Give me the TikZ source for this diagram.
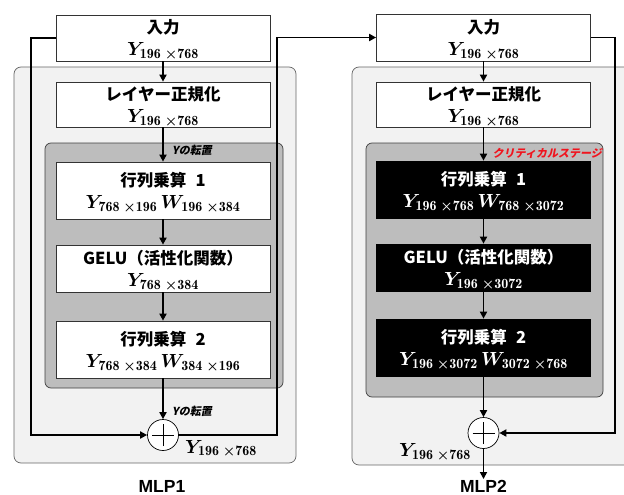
\RequirePackage{fix-cm}
\documentclass[tikz,border=0pt]{standalone}
\usepackage{amsmath,bm}
\usepackage{fontspec}
\newfontfamily\jp{Noto Sans CJK JP}
\newfontfamily\jpit{Noto Sans CJK JP}[FakeSlant=0.2]
\setsansfont{Liberation Sans}
\usetikzlibrary{arrows.meta}
\DeclareMathSizes{19}{19}{14}{10}
\newcommand\mY[2]{\bm{Y}_{\mathbf{#1}\;\bm{\times}\mathbf{#2}}}
\newcommand\mW[2]{\bm{W}_{\mathbf{#1}\;\bm{\times}\mathbf{#2}}}
\newcommand\ml[1]{{\fontsize{19}{20}\selectfont$#1$}}
% two-line box content: fixed first-line height, smashed second line
\newcommand\tl[2]{\raisebox{0pt}[14pt][0pt]{#1}\\\smash{\ml{#2}}}
\newcommand\gap{\hspace{0.55em}}
\definecolor{panelA}{HTML}{F2F2F2}
\definecolor{panelB}{HTML}{BDBDBD}
\definecolor{crit}{HTML}{F0141E}
\begin{document}
\begin{tikzpicture}[x=1pt,y=-1pt,
  box/.style={draw=black!80, line width=0.7pt, fill=white, minimum width=214pt, inner sep=0pt, align=center, font=\fontsize{16.5}{22}\selectfont\jp\bfseries},
  bbox/.style={box, fill=black, draw=black, text=white},
  outerpanel/.style={rounded corners=7pt, fill=panelA, draw=black!60, line width=0.7pt},
  innerpanel/.style={rounded corners=6pt, fill=panelB, draw=black!75, line width=0.7pt},
  arr/.style={line width=1.7pt, -{Triangle[length=7pt,width=7pt]}},
  plus/.style={circle, draw=black, line width=0.7pt, fill=white, minimum size=31pt, inner sep=0pt},
  note/.style={font=\fontsize{11}{12}\selectfont\jpit\bfseries, inner sep=0pt},
  ttl/.style={font=\fontsize{17.5}{20}\selectfont\sffamily\bfseries, inner sep=0pt}]
\useasboundingbox (0,0) rectangle (624,495);
% panels
\draw[outerpanel] (14,67) rectangle (296,463);
\draw[outerpanel] (352,67) rectangle (640,465);
\draw[innerpanel] (45,143) rectangle (283,388);
\draw[innerpanel] (366,143) rectangle (603,397);
% MLP1 boxes
\node[box, minimum height=46pt] (in1) at (163,38) {\tl{入力}{\mY{196}{768}}};
\node[box, minimum height=45pt] (ln1) at (163,104.5) {\tl{レイヤー正規化}{\mY{196}{768}}};
\node[box, minimum height=57pt] (m11) at (163,190.5) {\tl{行列乗算\gap 1}{\mY{768}{196}\,\mW{196}{384}}};
\node[box, minimum height=47pt] (g1) at (163,268.5) {\tl{GELU（活性化関数）}{\mY{768}{384}}};
\node[box, minimum height=57pt] (m12) at (163,349.5) {\tl{行列乗算\gap 2}{\mY{768}{384}\,\mW{384}{196}}};
\node[plus] (p1) at (163,435) {};
% MLP2 boxes
\node[box, minimum height=47pt] (in2) at (483.5,37.5) {\tl{入力}{\mY{196}{768}}};
\node[box, minimum height=45pt] (ln2) at (483.5,104.5) {\tl{レイヤー正規化}{\mY{196}{768}}};
\node[bbox, minimum height=57pt] (m21) at (483.5,189.5) {\tl{行列乗算\gap 1}{\mY{196}{768}\,\mW{768}{3072}}};
\node[bbox, minimum height=47pt] (g2) at (483.5,267.5) {\tl{GELU（活性化関数）}{\mY{196}{3072}}};
\node[bbox, minimum height=57pt] (m22) at (483.5,347.5) {\tl{行列乗算\gap 2}{\mY{196}{3072}\,\mW{3072}{768}}};
\node[plus] (p2) at (483.5,433) {};
% plus signs
\foreach \p in {p1,p2}{
  \draw[line width=1pt] ([xshift=-11pt]\p.center) -- ([xshift=11pt]\p.center);
  \draw[line width=1pt] ([yshift=-11pt]\p.center) -- ([yshift=11pt]\p.center);
}
% coordinates
\coordinate (l1) at (31,435);
\coordinate (r1) at (277,37.5);
\coordinate (r2) at (615,433);
\coordinate (o2) at (483.5,479);
% MLP1 connectors
\draw[arr] (in1) -- (ln1);
\draw[arr] (ln1) -- (m11);
\draw[arr] (m11) -- (g1);
\draw[arr] (g1) -- (m12);
\draw[arr] (m12) -- (p1);
\draw[arr] (in1.west) -| (l1) -- (p1.west);
\draw[arr] (p1.east) -| (r1) -- (in2.west);
% MLP2 connectors
\draw[arr] (in2) -- (ln2);
\draw[arr] (ln2) -- (m21);
\draw[arr] (m21) -- (g2);
\draw[arr] (g2) -- (m22);
\draw[arr] (m22) -- (p2);
\draw[arr] (in2.east) -| (r2) -- (p2.east);
\draw[arr] (p2) -- (o2);
% labels
\node[note, anchor=west] (t1) at (172,150) {Yの転置};
\node[note, anchor=west] (t2) at (172,411) {Yの転置};
\node[note, text=crit, anchor=east] (cs) at (602,153) {クリティカルステージ};
\node[inner sep=0pt, anchor=base west] (y1) at (185,453) {\ml{\mY{196}{768}}};
\node[inner sep=0pt, anchor=base west] (y2) at (399,456.5) {\ml{\mY{196}{768}}};
\node[ttl] (n1) at (162,486.5) {MLP1};
\node[ttl] (n2) at (483.5,486.5) {MLP2};
\end{tikzpicture}
\end{document}
